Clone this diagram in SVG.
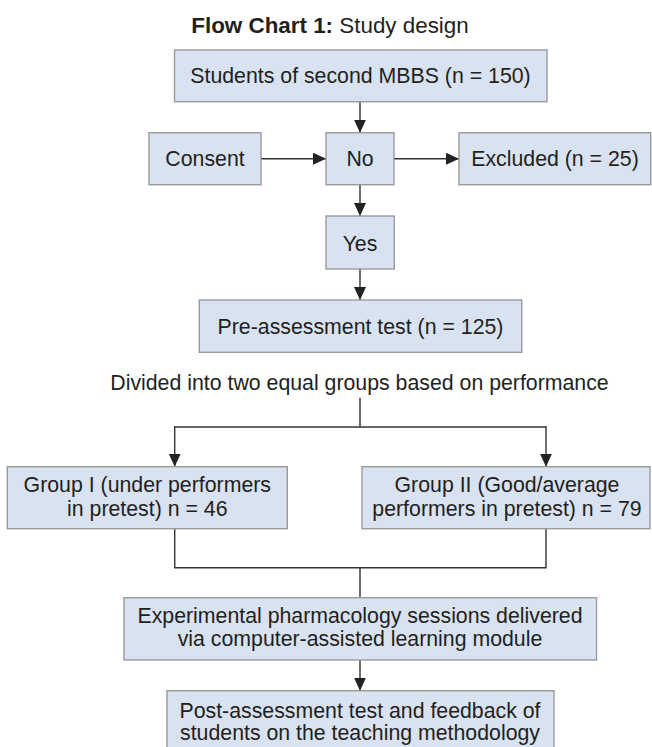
<svg xmlns="http://www.w3.org/2000/svg" width="652" height="747" viewBox="0 0 652 747">
<style>
.box{fill:#d9e2f1;stroke:#9a9a9a;stroke-width:1.4}
.t{font-family:"Liberation Sans",Arial,sans-serif;font-size:21.3px;fill:#231f20;text-anchor:middle}
.c{fill:none;stroke:#333;stroke-width:1.4}
.title{font-family:"Liberation Sans",Arial,sans-serif;font-size:22.4px;fill:#231f20;text-anchor:middle}
</style>
<defs>
<marker id="ah" markerUnits="userSpaceOnUse" markerWidth="13" markerHeight="12" refX="13" refY="6" orient="auto">
<path d="M0,0 L13,6 L0,12 z" fill="#222"/>
</marker>
</defs>
<rect width="652" height="747" fill="#fff"/>
<text class="title" x="330" y="33"><tspan font-weight="bold">Flow Chart 1:</tspan> Study design</text>

<g id="connectors">
<line class="c" x1="360" y1="101.7" x2="360" y2="132.7" marker-end="url(#ah)"/>
<line class="c" x1="261" y1="158.7" x2="326" y2="158.7" marker-end="url(#ah)"/>
<line class="c" x1="394" y1="158.7" x2="459" y2="158.7" marker-end="url(#ah)"/>
<line class="c" x1="360" y1="184.7" x2="360" y2="216" marker-end="url(#ah)"/>
<line class="c" x1="360" y1="269" x2="360" y2="300" marker-end="url(#ah)"/>
<line class="c" x1="360" y1="397.7" x2="360" y2="427"/>
<line class="c" x1="174.7" y1="427" x2="546" y2="427"/>
<line class="c" x1="174.7" y1="426.3" x2="174.7" y2="466.7" marker-end="url(#ah)"/>
<line class="c" x1="546" y1="426.3" x2="546" y2="466.7" marker-end="url(#ah)"/>
<polyline class="c" points="174.7,528.7 174.7,567.7 546,567.7 546,528.7"/>
<line class="c" x1="360" y1="567.7" x2="360" y2="597.7"/>
<line class="c" x1="360" y1="660" x2="360" y2="690.7" marker-end="url(#ah)"/>
</g>

<g id="students">
<rect class="box" x="174.5" y="50" width="372.5" height="51.7"/>
<text class="t" x="360.5" y="82.5">Students of second MBBS (n = 150)</text>
</g>
<g id="consent">
<rect class="box" x="149" y="132.7" width="112" height="52"/>
<text class="t" x="205" y="166.3">Consent</text>
</g>
<g id="no">
<rect class="box" x="326" y="132.7" width="68" height="52"/>
<text class="t" x="360" y="166.3">No</text>
</g>
<g id="excluded">
<rect class="box" x="459" y="132.7" width="191.7" height="52"/>
<text class="t" x="555" y="166.3">Excluded (n = 25)</text>
</g>
<g id="yes">
<rect class="box" x="326" y="216" width="68.3" height="53"/>
<text class="t" x="360" y="250.5">Yes</text>
</g>
<g id="pre">
<rect class="box" x="199.3" y="300" width="322.4" height="52.3"/>
<text class="t" x="360.5" y="333.5">Pre-assessment test (n = 125)</text>
</g>
<g id="divided">
<text class="t" x="359.5" y="390">Divided into two equal groups based on performance</text>
</g>
<g id="group1">
<rect class="box" x="7.3" y="466.7" width="280" height="62"/>
<text class="t" x="147.3" y="491.7">Group I (under performers</text>
<text class="t" x="147.3" y="515.7">in pretest) n = 46</text>
</g>
<g id="group2">
<rect class="box" x="362" y="466.7" width="288" height="62"/>
<text class="t" x="507" y="491.7">Group II (Good/average</text>
<text class="t" x="507" y="515.7">performers in pretest) n = 79</text>
</g>
<g id="experimental">
<rect class="box" x="124" y="597.7" width="472.5" height="62.3"/>
<text class="t" x="360" y="622.7">Experimental pharmacology sessions delivered</text>
<text class="t" x="360" y="645.7">via computer-assisted learning module</text>
</g>
<g id="post">
<rect class="box" x="167" y="690.7" width="387" height="58"/>
<text class="t" x="360" y="718">Post-assessment test and feedback of</text>
<text class="t" x="360" y="740">students on the teaching methodology</text>
</g>
</svg>
